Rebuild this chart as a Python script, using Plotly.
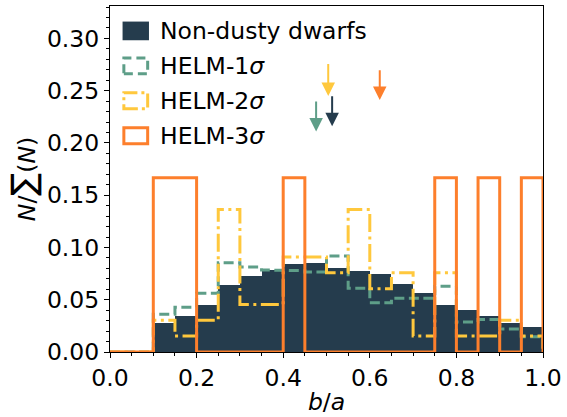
import plotly.graph_objects as go

# ---- data ----
bin_edges = [0.00, 0.05, 0.10, 0.15, 0.20, 0.25, 0.30, 0.35, 0.40, 0.45, 0.50,
             0.55, 0.60, 0.65, 0.70, 0.75, 0.80, 0.85, 0.90, 0.95, 1.00]

nondusty = [0.0, 0.0, 0.0280, 0.0345, 0.0446, 0.0637, 0.0726, 0.0783, 0.0840, 0.0847,
            0.0799, 0.0773, 0.0745, 0.0646, 0.0561, 0.0449, 0.0405, 0.0344, 0.0279, 0.0243]

helm1 = [0.0, 0.0, 0.0361, 0.0427, 0.0561, 0.0855, 0.0812, 0.0785, 0.0778, 0.0765,
         0.0918, 0.0610, 0.0472, 0.0515, 0.0515, 0.0628, 0.0288, 0.0312, 0.0220, 0.0147]

helm2 = [0.0, 0.0, 0.0303, 0.0152, 0.0303, 0.1364, 0.0455, 0.0455, 0.0909, 0.0909,
         0.0758, 0.1364, 0.0606, 0.0758, 0.0152, 0.0758, 0.0152, 0.0152, 0.0303, 0.0152]

helm3 = [0.0, 0.0, 0.1667, 0.1667, 0.0, 0.0, 0.0, 0.0, 0.1667, 0.0,
         0.0, 0.0, 0.0, 0.0, 0.0, 0.1667, 0.0, 0.1667, 0.0, 0.1667]

series_names = ["Non-dusty dwarfs", "HELM-1\u03c3", "HELM-2\u03c3", "HELM-3\u03c3"]
legend_labels = ["Non-dusty dwarfs", "HELM-1<i>\u03c3</i>", "HELM-2<i>\u03c3</i>", "HELM-3<i>\u03c3</i>"]

# mean b/a markers (arrows): order nondusty, helm1, helm2, helm3
arrow_x = [0.513, 0.476, 0.504, 0.623]
arrow_tip_y = [0.216, 0.211, 0.245, 0.241]
arrow_tail_y = [0.246, 0.241, 0.277, 0.271]

# ---- styles ----
C_NAVY = "#253c4d"
C_GREEN = "#5e9e88"
C_YELLOW = "#ffc83d"
C_ORANGE = "#fd7f2c"
colors = [C_NAVY, C_GREEN, C_YELLOW, C_ORANGE]
FONT = "DejaVu Sans"
FS = 23.5


def step_path(edges, vals):
    xs, ys = [edges[0]], [0.0]
    for i, v in enumerate(vals):
        xs += [edges[i], edges[i + 1]]
        ys += [v, v]
    xs.append(edges[-1])
    ys.append(0.0)
    return xs, ys


fig = go.Figure()

centers = [(bin_edges[i] + bin_edges[i + 1]) / 2 for i in range(len(nondusty))]
widths = [bin_edges[i + 1] - bin_edges[i] for i in range(len(nondusty))]
fig.add_trace(go.Bar(x=centers, y=nondusty, width=widths, name=series_names[0],
                     marker=dict(color=C_NAVY, line=dict(width=0)), showlegend=False))

for vals, name, col, dash in [(helm1, series_names[1], C_GREEN, "10px,4.5px"),
                              (helm2, series_names[2], C_YELLOW, "18px,4.5px,3px,4.5px"),
                              (helm3, series_names[3], C_ORANGE, "solid")]:
    xs, ys = step_path(bin_edges, vals)
    fig.add_trace(go.Scatter(x=xs, y=ys, mode="lines", name=name, showlegend=False,
                             line=dict(color=col, width=3, dash=dash)))

# arrows
annotations = []
for xa, yt, ya, col in zip(arrow_x, arrow_tip_y, arrow_tail_y, colors):
    annotations.append(dict(x=xa, y=yt, ax=xa, ay=ya, xref="x", yref="y", axref="x", ayref="y",
                            text="", showarrow=True, arrowhead=2, arrowsize=1.35,
                            arrowwidth=2, arrowcolor=col, standoff=0, startstandoff=0))

# custom legend (patches + text), positions in axis-domain fraction
shapes = []
leg_rows_y = [0.928, 0.827, 0.726, 0.625]
patch_h = 0.054
dashes = [None, "9px,5px", "14px,4px,3px,4px", "solid"]
for i, (yc, col) in enumerate(zip(leg_rows_y, colors)):
    if i == 0:
        shapes.append(dict(type="rect", xref="x domain", yref="y domain",
                           x0=0.029, x1=0.090, y0=yc - patch_h / 2, y1=yc + patch_h / 2,
                           fillcolor=C_NAVY, line=dict(width=0)))
    else:
        shapes.append(dict(type="rect", xref="x domain", yref="y domain",
                           x0=0.032, x1=0.087, y0=yc - patch_h / 2 + 0.004, y1=yc + patch_h / 2 - 0.004,
                           fillcolor="rgba(0,0,0,0)", line=dict(color=col, width=3, dash=dashes[i])))
    annotations.append(dict(x=0.111, y=yc, xref="x domain", yref="y domain", text=legend_labels[i],
                            showarrow=False, xanchor="left", yanchor="middle",
                            font=dict(family=FONT, size=FS, color="black")))

fig.update_layout(
    width=567, height=417,
    margin=dict(l=110, r=19, t=5, b=65),
    plot_bgcolor="white", paper_bgcolor="white",
    bargap=0, showlegend=False,
    font=dict(family=FONT, size=FS, color="black"),
    annotations=annotations, shapes=shapes,
)

fig.update_xaxes(range=[0, 1], showgrid=False, zeroline=False,
                 showline=True, linecolor="black", linewidth=1.1, mirror=True,
                 ticks="outside", ticklen=5, tickwidth=1.1, tickcolor="black",
                 tickvals=[0.0, 0.2, 0.4, 0.6, 0.8, 1.0],
                 ticktext=["0.0", "0.2", "0.4", "0.6", "0.8", "1.0"],
                 minor=dict(dtick=0.05, tick0=0, ticks="outside", ticklen=3, tickwidth=1, tickcolor="black"),
                 tickfont=dict(family=FONT, size=FS),
                 title=dict(text="<i>b</i>/<i>a</i>", font=dict(family=FONT, size=FS), standoff=2))

fig.update_yaxes(range=[0, 0.331], showgrid=False, zeroline=False,
                 showline=True, linecolor="black", linewidth=1.1, mirror=True,
                 ticks="outside", ticklen=5, tickwidth=1.1, tickcolor="black",
                 tickvals=[0.0, 0.05, 0.10, 0.15, 0.20, 0.25, 0.30],
                 ticktext=["0.00", "0.05", "0.10", "0.15", "0.20", "0.25", "0.30"],
                 minor=dict(dtick=0.01, tick0=0, ticks="outside", ticklen=3, tickwidth=1, tickcolor="black"),
                 tickfont=dict(family=FONT, size=FS),
                 title=dict(text="<i>N</i>/<span style='font-size:34px'>\u2211</span>(<i>N</i>)",
                            font=dict(family=FONT, size=FS), standoff=4))

fig.write_html("out.html")
